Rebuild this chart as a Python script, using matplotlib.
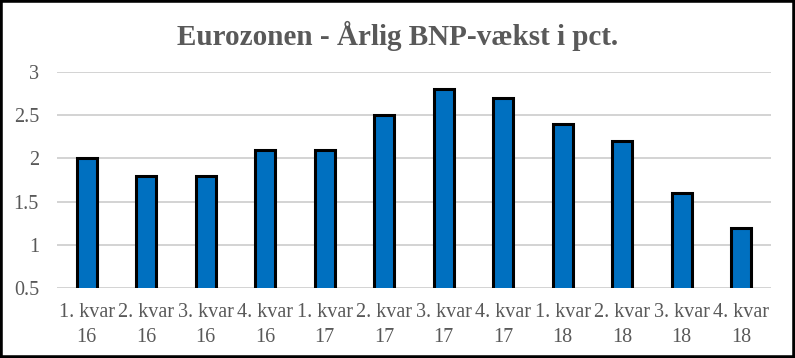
import matplotlib
matplotlib.use("Agg")

import matplotlib.pyplot as plt
from matplotlib.patches import Rectangle

kvartaler = ["1. kvar\n16", "2. kvar\n16", "3. kvar\n16", "4. kvar\n16",
             "1. kvar\n17", "2. kvar\n17", "3. kvar\n17", "4. kvar\n17",
             "1. kvar\n18", "2. kvar\n18", "3. kvar\n18", "4. kvar\n18"]
vaekst = [2.0, 1.8, 1.8, 2.1, 2.1, 2.5, 2.8, 2.7, 2.4, 2.2, 1.6, 1.2]
y_ticks = [0.5, 1, 1.5, 2, 2.5, 3]

plt.rcParams["font.family"] = ["Liberation Serif", "DejaVu Serif"]
grey = "#595959"

fig = plt.figure(figsize=(7.95, 3.58), dpi=100)
ax = fig.add_axes([0.0717, 0.1955, 0.898, 0.6035])

x = range(len(vaekst))
ax.bar(x, vaekst, width=0.34, bottom=0, color="#0070C0",
       edgecolor="black", linewidth=2.2, zorder=3)

ax.set_ylim(0.5, 3)
ax.set_xlim(-0.5, len(vaekst) - 0.5)
ax.set_yticks(y_ticks)
ax.set_yticklabels(["0.5", "1", "1.5", "2", "2.5", "3"])
ax.set_xticks(list(x))
ax.set_xticklabels(kvartaler, linespacing=1.4)
ax.tick_params(axis="both", length=0, labelsize=14.5, colors=grey)
ax.tick_params(axis="y", pad=13)
ax.tick_params(axis="x", pad=11)

ax.grid(axis="y", color="#cccccc", linewidth=1.2, zorder=0)
for s in ax.spines.values():
    s.set_visible(False)

fig.text(0.5, 0.9, "Eurozonen - Årlig BNP-vækst i pct.", ha="center",
         va="center", fontsize=21, fontweight="bold", color=grey)

fig.patches.append(Rectangle((0, 0), 1, 1, transform=fig.transFigure,
                             fill=False, edgecolor="black", linewidth=4))

fig.savefig("out.png", dpi=100)
